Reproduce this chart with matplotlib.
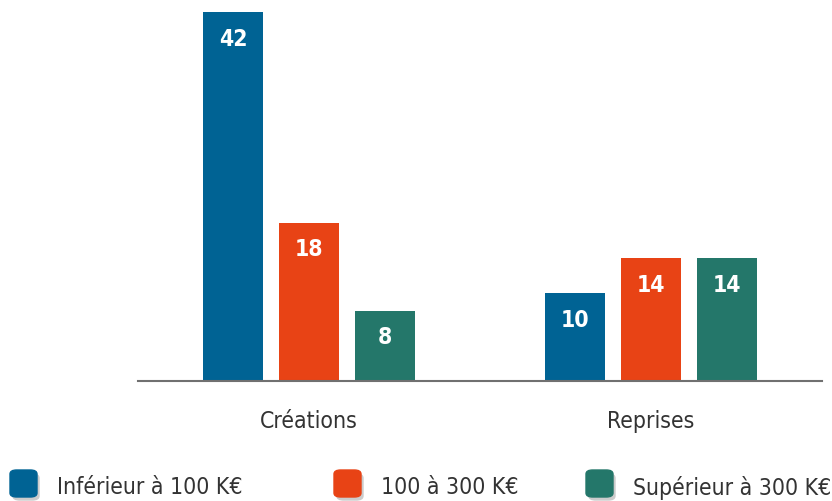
import matplotlib.pyplot as plt
from matplotlib.patches import FancyBboxPatch
from matplotlib import font_manager

categories = ["Créations", "Reprises"]
series_names = ["Inférieur à 100 K€", "100 à 300 K€", "Supérieur à 300 K€"]
inf_100 = [42, 10]
de_100_300 = [18, 14]
sup_300 = [8, 14]
colors = ["#006394", "#E84315", "#24776A"]

# police étroite si disponible
narrow = [f for f in font_manager.fontManager.ttflist
          if f.stretch in ("condensed", "semi-condensed", "extra-condensed")
          or "Narrow" in f.name or "Condensed" in f.name]
if narrow:
    base = narrow[0].name
    plt.rcParams['font.stretch'] = 'condensed'
    size = 16.5
else:
    base = "DejaVu Sans"
    size = 14
plt.rcParams['font.family'] = [base, 'DejaVu Sans']

W, H = 832, 501
fig = plt.figure(figsize=(W / 100, H / 100), dpi=100)
ax = fig.add_axes([138 / W, 1 - 381 / H, 684 / W, 369 / H])

offsets = [-0.222, 0.0, 0.222]
width = 0.175
x = range(len(categories))
for vals, off, col in zip([inf_100, de_100_300, sup_300], offsets, colors):
    bars = ax.bar([i + off for i in x], vals, width=width, color=col)
    for b in bars:
        ax.annotate(f"{int(b.get_height())}",
                    (b.get_x() + b.get_width() / 2, b.get_height()),
                    xytext=(0, -27), textcoords="offset pixels",
                    ha="center", va="center", color="white",
                    fontsize=16.5, fontweight="bold")

ax.set_xlim(-0.5, 1.5)
ax.set_ylim(0, 42)
for s in ["top", "right", "left"]:
    ax.spines[s].set_visible(False)
ax.spines["bottom"].set_color("#707070")
ax.spines["bottom"].set_linewidth(1.5)
ax.set_yticks([])
ax.set_xticks(list(x))
ax.set_xticklabels(categories, fontsize=size, color="#333333")
ax.tick_params(axis="x", length=0, pad=21)

# légende
leg_x = [10, 334, 586]
for lx, name, col in zip(leg_x, series_names, colors):
    sh = FancyBboxPatch(((lx + 3) / W, 1 - 500 / H), 26 / W, 26 / H,
                        boxstyle="round,pad=0,rounding_size=0.008",
                        transform=fig.transFigure, color="#cccccc", zorder=1)
    sq = FancyBboxPatch((lx / W, 1 - 497 / H), 27 / W, 27 / H,
                        boxstyle="round,pad=0,rounding_size=0.008",
                        transform=fig.transFigure, color=col, zorder=2)
    fig.patches.extend([sh, sq])
    fig.text((lx + 47) / W, 1 - 488 / H, name, fontsize=size,
             va="center", ha="left", color="#333333")

fig.savefig("out.png", dpi=100)
